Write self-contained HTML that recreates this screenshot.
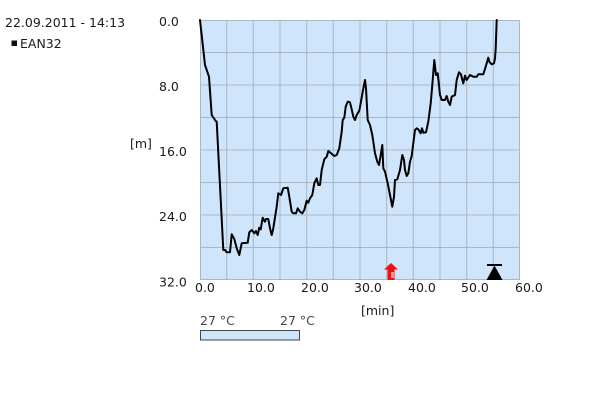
<!DOCTYPE html>
<html>
<head>
<meta charset="utf-8">
<style>
  html, body { margin: 0; padding: 0; background: #ffffff; }
  body { width: 600px; height: 400px; overflow: hidden; }
  svg { display: block; }
  text { font-family: "DejaVu Sans", "Liberation Sans", sans-serif; font-size: 12.5px; fill: #1a1a1a; }
</style>
</head>
<body>
<svg width="600" height="400" viewBox="0 0 600 400" xmlns="http://www.w3.org/2000/svg">
  <!-- header -->
  <text x="5" y="27">22.09.2011 - 14:13</text>
  <rect x="11.5" y="40.5" width="5.5" height="5.5" fill="#111"/>
  <text x="20" y="48">EAN32</text>

  <!-- plot background -->
  <rect x="200" y="20" width="320" height="260" fill="#cfe5fc"/>
  <!-- grid -->
  <g stroke="#a9b6c4" stroke-width="1" fill="none">
    <line x1="226.7" y1="20" x2="226.7" y2="280"/>
    <line x1="253.3" y1="20" x2="253.3" y2="280"/>
    <line x1="280" y1="20" x2="280" y2="280"/>
    <line x1="306.7" y1="20" x2="306.7" y2="280"/>
    <line x1="333.3" y1="20" x2="333.3" y2="280"/>
    <line x1="360" y1="20" x2="360" y2="280"/>
    <line x1="386.7" y1="20" x2="386.7" y2="280"/>
    <line x1="413.3" y1="20" x2="413.3" y2="280"/>
    <line x1="440" y1="20" x2="440" y2="280"/>
    <line x1="466.7" y1="20" x2="466.7" y2="280"/>
    <line x1="493.3" y1="20" x2="493.3" y2="280"/>
    <line x1="200" y1="52.5" x2="520" y2="52.5"/>
    <line x1="200" y1="85" x2="520" y2="85"/>
    <line x1="200" y1="117.5" x2="520" y2="117.5"/>
    <line x1="200" y1="150" x2="520" y2="150"/>
    <line x1="200" y1="182.5" x2="520" y2="182.5"/>
    <line x1="200" y1="215" x2="520" y2="215"/>
    <line x1="200" y1="247.5" x2="520" y2="247.5"/>
    <rect x="200.5" y="20.5" width="319" height="259"/>
  </g>

  <!-- y labels -->
  <text x="159" y="26">0.0</text>
  <text x="159" y="91">8.0</text>
  <text x="159" y="156">16.0</text>
  <text x="159" y="221">24.0</text>
  <text x="159" y="286.5">32.0</text>
  <text x="130" y="148">[m]</text>

  <!-- x labels -->
  <text x="195" y="292">0.0</text>
  <text x="247" y="292">10.0</text>
  <text x="301" y="292">20.0</text>
  <text x="354" y="292">30.0</text>
  <text x="408" y="292">40.0</text>
  <text x="461" y="292">50.0</text>
  <text x="515" y="292">60.0</text>
  <text x="361" y="315">[min]</text>

  <!-- data line -->
  <polyline fill="none" stroke="#000" stroke-width="2" stroke-linejoin="round" stroke-linecap="round"
    points="200,20 205,65 206.7,70 209,76.7 211.7,115 215.7,121 216.7,121.7 223.3,250 225,250 226.7,252.3 230,252.3 231.7,234.3 234.3,239 236.7,248.3 239.3,255 241.7,243.3 247.7,242.7 249.3,232.3 251.7,230 254.3,233.3 256,231 257.7,235 259.3,227.7 260.7,229.3 262.7,217.7 265,221.7 266,219 268.3,219 270,228.3 271.7,235 273.3,228.3 276.7,206.7 278.3,193.3 281,195 283.3,188.3 287.7,187.7 289.3,196.7 291.7,211.7 293.3,213.3 296,213.3 297.7,208.3 300,211.7 302.3,213.3 304.3,210 306.7,200.7 308.3,202.7 310,198.3 312.3,195 314.3,183.3 316.7,178.3 318.3,185 320,185 321.7,170 324.3,159.3 326.7,156.7 328.3,151 331,153.3 334.3,156 336.7,155 339.3,148.3 341.7,131.7 342.7,120 344.3,117.7 345.7,106.7 347.7,101.7 350,102.3 351.7,109.3 353.3,116.7 355,120 356.7,115 359.3,110.7 360.7,103.3 362.7,91.7 365,80 366,88.3 367.7,120 370,125 372.3,135 375,153.3 377.3,161.7 379,165 381,153.3 382.3,145 383.3,168.3 385,171.7 387.7,183.3 390,195 392.3,206.7 394,196.7 395,180 397.3,179.3 400,170 402.3,155 404,160 405,170 406.7,176 408.3,173.3 410,161.7 411.7,156 415,130 416.7,128.3 418.3,129.3 420.7,133.3 422,128.3 423.3,132.7 426,132.3 428.3,121.7 430.7,103.3 432.3,85 434.3,60 436,75 437.7,73.3 440,95 441.7,100 445,100 446.7,96 448.3,101.7 450,105 451.7,96.7 455,95 456.7,80 459,72.3 461,74.3 462.3,80 463.3,83.3 465,75.7 466.7,80 470,75 473.3,76.7 476.7,76.7 478.3,74.3 483.3,74.3 485.7,66.7 488.3,57.7 489.3,61.7 491.7,64.3 494,63.3 495,58.3 495.7,48.3 496.7,20"/>

  <!-- red marker -->
  <polygon points="391,263 384,269.5 398,269.5" fill="#ee1111"/>
  <rect x="387.5" y="269" width="7" height="11" fill="#ee1111"/>
  <rect x="391" y="272" width="3" height="6" fill="#f29a9a"/>

  <!-- black marker -->
  <rect x="487" y="264" width="15" height="2" fill="#000"/>
  <polygon points="494.5,265.5 486.5,280 502.5,280" fill="#000"/>

  <!-- legend -->
  <text x="200" y="325" style="fill:#444">27 °C</text>
  <text x="280" y="325" style="fill:#444">27 °C</text>
  <rect x="200.5" y="330.5" width="99" height="9.5" fill="#cfe5fc" stroke="#444" stroke-width="1"/>
</svg>
</body>
</html>
